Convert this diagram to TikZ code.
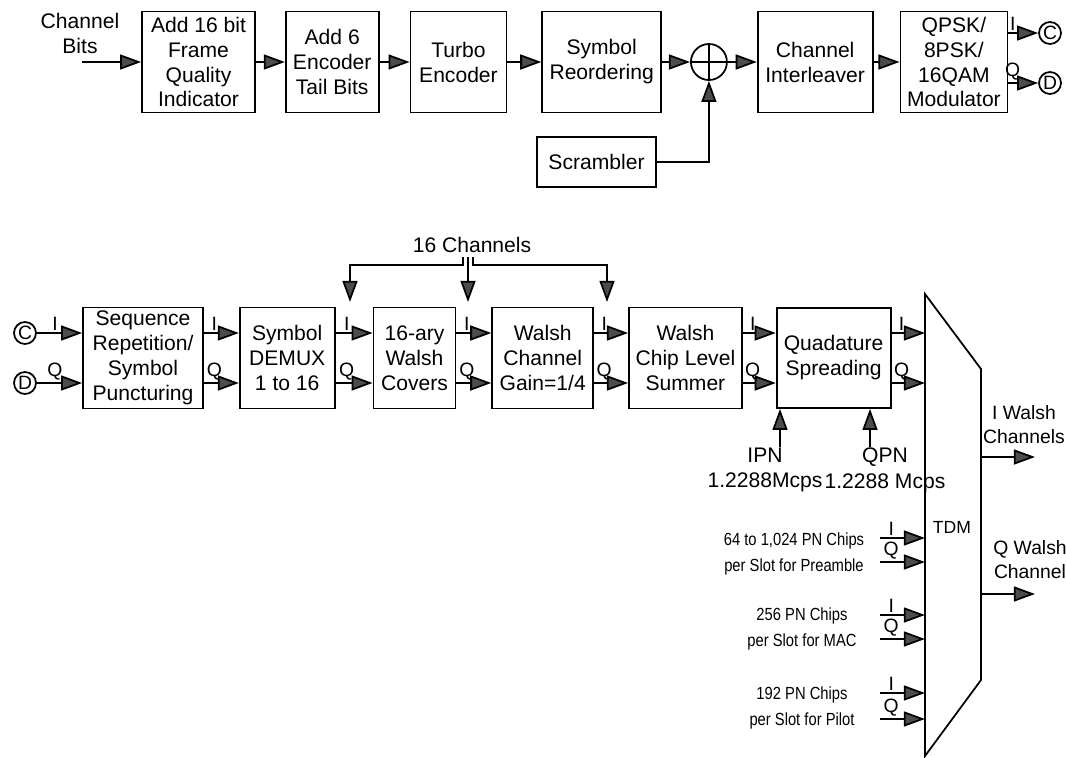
\documentclass[tikz,border=0pt]{standalone}
\usepackage{fontspec}
\setmainfont{Liberation Sans}
\newfontfamily\narrowfont{Liberation Sans}[FakeStretch=0.84]
\usetikzlibrary{arrows.meta, positioning}

\begin{document}
\begin{tikzpicture}[
  x=0.02cm, y=-0.02cm,
  node distance = 0.6cm,
  every node/.style = {font=\fontsize{12}{14.2}\selectfont},
  blk/.style   = {rectangle, draw, line width=1pt, inner sep=0pt,
                  minimum height=2.02cm, align=center},
  conn/.style  = {circle, draw, line width=1pt, inner sep=0pt, minimum size=0.44cm,
                  font=\fontsize{11}{12}\selectfont},
  lbl/.style   = {font=\fontsize{11}{13}\selectfont, inner sep=1pt},
  small/.style = {font=\narrowfont\fontsize{10}{14.7}\selectfont, align=center},
  two/.style   = {font=\fontsize{12}{14.7}\selectfont, align=center},
  arr/.style   = {-{Triangle[length=12pt, width=8.5pt, fill=black!70]}, line width=1pt},
  line/.style  = {line width=1pt},
]
\useasboundingbox (0,0) rectangle (1066,758);

%% Top row: forward link data chain
\node[align=center] (bits) at (80,33) {Channel\\Bits};
\coordinate (bitsin) at (82,62);
\node[blk, minimum width=2.26cm] (fqi) at (198.5,62) {Add 16 bit\\Frame\\Quality\\Indicator};
\node[blk, minimum width=1.86cm, right=0.58cm of fqi]   (tail)  {Add 6\\Encoder\\Tail Bits};
\node[blk, minimum width=1.92cm, right=0.6cm of tail]   (turbo) {Turbo\\Encoder};
\node[blk, minimum width=2.38cm, right=0.68cm of turbo] (reord) {Symbol\\Reordering};
\node[circle, draw, line width=1pt, minimum size=0.72cm, inner sep=0pt,
      right=0.56cm of reord] (sum) {};
\node[blk, minimum width=2.3cm, right=0.58cm of sum]    (intl)  {Channel\\Interleaver};
\node[blk, minimum width=2.14cm, right=0.52cm of intl]  (mod)   {QPSK/\\8PSK/\\16QAM\\Modulator};
\node[blk, minimum width=2.38cm, minimum height=1cm] (scr) at (596.5,162) {Scrambler};

\draw[line] (sum.north) -- (sum.south) (sum.west) -- (sum.east);

%% Off-page connectors (top)
\node[conn] (oc) at (1050,33) {C};
\node[conn] (od) at (1050,83) {D};

\draw[arr] (bitsin) -- (fqi.west |- bitsin);
\foreach \a/\b in {fqi/tail, tail/turbo, turbo/reord, reord/sum, sum/intl, intl/mod} {
  \draw[arr] (\a.east) -- (\b.west);
}
\draw[arr] (scr.east) -| (sum.south);
\draw[arr] (mod.east |- oc) -- node[lbl, above, pos=0.15]{I} (oc);
\draw[arr] (mod.east |- od) -- node[lbl, above, pos=0.15]{Q} (od);

%% Bottom row: Walsh channel chain
\node[conn] (ic) at (25,333) {C};
\node[conn] (id) at (25,383) {D};
\node[blk, minimum width=2.4cm] (seq) at (143,358) {Sequence\\Repetition/\\Symbol\\Puncturing};
\node[blk, minimum width=1.9cm, right=0.7cm of seq]   (dmx)  {Symbol\\DEMUX\\1 to 16};
\node[blk, minimum width=1.64cm, right=0.74cm of dmx] (cov)  {16-ary\\Walsh\\Covers};
\node[blk, minimum width=2.02cm, right=0.7cm of cov]  (gain) {Walsh\\Channel\\Gain=1/4};
\node[blk, minimum width=2.26cm, right=0.68cm of gain] (sumr) {Walsh\\Chip Level\\Summer};
\node[blk, minimum width=2.28cm, minimum height=2cm, right=0.66cm of sumr] (qsp) {Quadature\\Spreading};

\draw[arr] (ic) -- node[lbl, above, pos=0.4]{I} (ic -| seq.west);
\draw[arr] (id) -- node[lbl, above, pos=0.4]{Q} (id -| seq.west);
\foreach \a/\b in {seq/dmx, dmx/cov, cov/gain, gain/sumr, sumr/qsp} {
  \draw[arr] ([yshift=0.5cm]\a.east) -- node[lbl, above, pos=0.3]{I} ([yshift=0.5cm]\b.west);
  \draw[arr] ([yshift=-0.5cm]\a.east) -- node[lbl, above, pos=0.3]{Q} ([yshift=-0.5cm]\b.west);
}

%% 16 channels bus
\node (nch) at (472,245) {16 Channels};
\coordinate (sL) at (463,257);
\coordinate (sM) at (468,257);
\coordinate (sR) at (473,257);
\coordinate (tL) at (350,302);
\coordinate (tM) at (468,302);
\coordinate (tR) at (607,302);
\draw[arr] (sL) -- ++(0,8) -| (tL);
\draw[arr] (sM) -- (tM);
\draw[arr] (sR) -- ++(0,8) -| (tR);

%% PN sequences
\coordinate (ipn) at (780,447);
\coordinate (qpn) at (870,447);
\draw[arr] (ipn) -- (ipn |- qsp.south);
\draw[arr] (qpn) -- (qpn |- qsp.south);
\node[two] (ipnl) at (765,470) {IPN\\1.2288Mcps};
\node[two] (qpnl) at (885,470) {QPN\\1.2288 Mcps};

%% TDM
\coordinate (tA) at (925,294);
\coordinate (tB) at (981,369);
\coordinate (tC) at (981,680);
\coordinate (tD) at (925,756);
\draw[line] (tA) -- (tB) -- (tC) -- (tD) -- cycle;
\node[font=\fontsize{10}{12}\selectfont] (tdm) at (952,527) {TDM};

\coordinate (qi) at ([yshift=0.5cm]qsp.east);
\coordinate (qq) at ([yshift=-0.5cm]qsp.east);
\draw[arr] (qi) -- node[lbl, above, pos=0.3]{I} (qi -| tA);
\draw[arr] (qq) -- node[lbl, above, pos=0.3]{Q} (qq -| tA);

\foreach \yi/\yq/\nm in {538/562/pre, 615/639/mac, 693/719/pil} {
  \coordinate (\nm I) at (880,\yi);
  \coordinate (\nm Q) at (880,\yq);
  \draw[arr] (\nm I) -- node[lbl, above, pos=0.25]{I} (\nm I -| tA);
  \draw[arr] (\nm Q) -- node[lbl, above, pos=0.25]{Q} (\nm Q -| tA);
}
\node[small] (pre) at (794,554) {64 to 1,024 PN Chips\\per Slot for Preamble};
\node[small] (mac) at (802,629) {256 PN Chips\\per Slot for MAC};
\node[small] (pil) at (802,708) {192 PN Chips\\per Slot for Pilot};

%% TDM outputs
\coordinate (iw) at (1035,457);
\coordinate (qw) at (1035,594);
\draw[arr] (tB |- iw) -- (iw);
\draw[arr] (tB |- qw) -- (qw);
\node[lbl, align=center, font=\fontsize{11}{13.6}\selectfont] (iwl) at (1024,425) {I Walsh\\Channels};
\node[lbl, align=center, font=\fontsize{11}{13.6}\selectfont] (qwl) at (1030,560) {Q Walsh\\Channel};

\end{tikzpicture}
\end{document}
